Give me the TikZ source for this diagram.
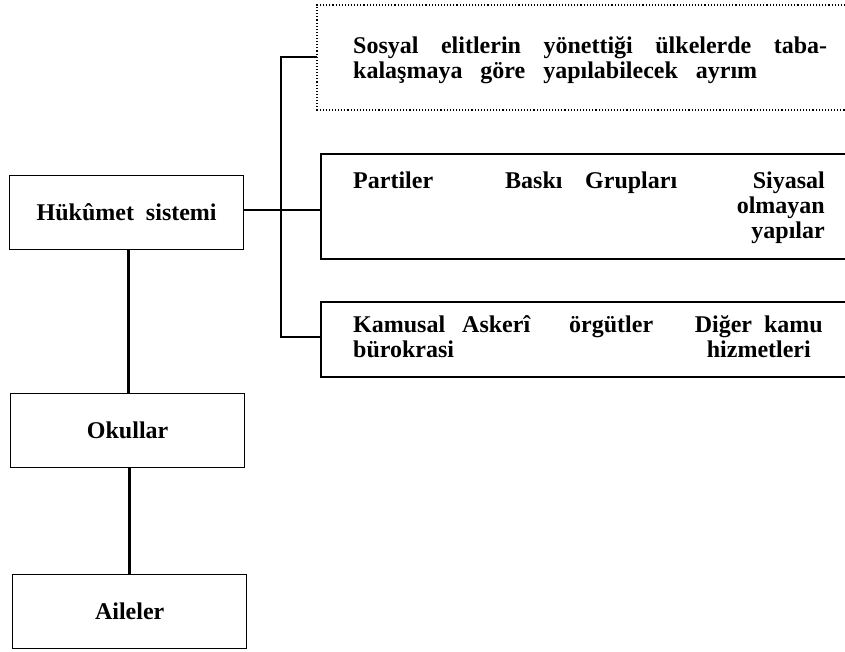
\documentclass[tikz,border=0pt]{standalone}
\usepackage{fontspec}
\setmainfont{Liberation Serif}
\begin{document}
\begin{tikzpicture}[x=1pt,y=-1pt,
  box/.style={draw,line width=1.3pt},
  conn/.style={line width=2.6pt},
  lbl/.style={font=\bfseries\fontsize{24}{25}\selectfont,inner sep=0pt},
  opn/.style={line width=1.3pt},
  dot/.style={line width=1.1pt,dotted}]
\useasboundingbox (0,0) rectangle (845,652);
% left column boxes
\node[box,minimum width=234pt,minimum height=74pt,lbl,anchor=north west] (huk) at (9,175) {Hükûmet\ \ sistemi};
\node[box,minimum width=234pt,minimum height=74pt,lbl,anchor=north west] (okul) at (10,393) {Okullar};
\node[box,minimum width=234pt,minimum height=74pt,lbl,anchor=north west] (aile) at (12,574) {Aileler};
\draw[conn] (huk.south) ++(2,0) coordinate (hs) -- (hs |- okul.north);
\draw[conn] (okul.south) ++(2,0) coordinate (os) -- (os |- aile.north);
% bracket
\coordinate (bt) at (281,57);
\coordinate (bm) at (281,210);
\coordinate (bb) at (281,337);
\coordinate (dt) at (317,57);
\coordinate (mt) at (321,210);
\coordinate (kt) at (321,337);
\draw[conn] (huk.east |- bm) -- (bm);
\draw[conn] (bm) -- (mt);
\draw[conn] (dt) -- (bt) -- (bb) -- (kt);
% dotted box (open to the right)
\draw[dot] (845,5) -- (317,5) -- (317,110) -- (845,110);
\node[lbl,anchor=base west] (s1) at (353,54) {\hbox to 474pt{Sosyal\hfill elitlerin\hfill yönettiği\hfill ülkelerde\hfill taba-}};
\node[lbl,anchor=base west] (s2) at (353,79) {\hbox to 404pt{kalaşmaya\hfill göre\hfill yapılabilecek\hfill ayrım}};
% middle box
\draw[opn] (845,154) -- (321,154) -- (321,259) -- (845,259);
\node[lbl,anchor=base west] (par) at (353,189) {Partiler};
\node[lbl,anchor=base west] (bas) at (505,189) {\hbox to 172pt{Baskı\hfill Grupları}};
\node[lbl,anchor=base east] (siy) at (825,189) {\begin{tabular}[t]{@{}r@{}}Siyasal\\olmayan\\yapılar\end{tabular}};
% bottom box
\draw[opn] (845,302) -- (321,302) -- (321,377) -- (845,377);
\node[lbl,anchor=base west] (kam) at (353,332) {\begin{tabular}[t]{@{}l@{}}Kamusal\\bürokrasi\end{tabular}};
\node[lbl,anchor=base west] (ask) at (462,332) {\hbox to 191pt{Askerî\hfill örgütler}};
\node[lbl,anchor=base east] (dig) at (823,332) {\begin{tabular}[t]{@{}c@{}}Diğer\ \ kamu\\hizmetleri\end{tabular}};
\end{tikzpicture}
\end{document}
